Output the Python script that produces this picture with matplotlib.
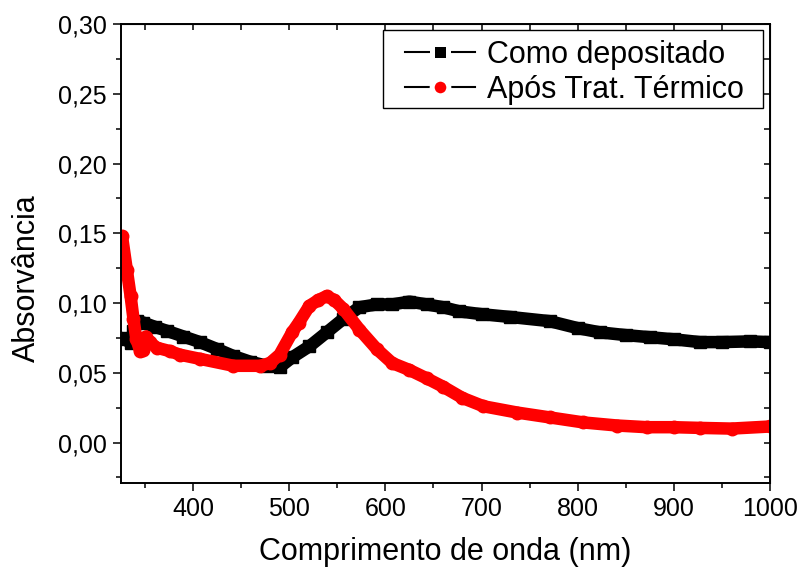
import numpy as np
import matplotlib
matplotlib.use("Agg")
import matplotlib.pyplot as plt
from matplotlib.lines import Line2D
from matplotlib.patches import Rectangle
from matplotlib.ticker import MultipleLocator, FuncFormatter

plt.rcParams['font.family'] = ['Liberation Sans', 'DejaVu Sans']

# Como depositado (black squares)
nm_dep = [325, 330, 335, 338, 342, 348, 360, 373, 390, 407, 425, 442, 459, 477,
          490, 503, 521, 539, 556, 573, 591, 607, 625, 643, 660, 677, 700, 730,
          771, 800, 823, 850, 875, 900, 927, 950, 979, 1000]
abs_dep = [0.075, 0.074, 0.071, 0.080, 0.087, 0.086, 0.083, 0.080, 0.076, 0.072,
           0.067, 0.062, 0.058, 0.055, 0.054, 0.061, 0.069, 0.079, 0.0885, 0.097,
           0.099, 0.099, 0.101, 0.099, 0.097, 0.094, 0.092, 0.090, 0.087, 0.082,
           0.079, 0.077, 0.0755, 0.074, 0.072, 0.072, 0.0725, 0.072]

# Após tratamento térmico (red circles)
nm_tt = [326, 331, 335, 338, 341, 345, 348, 351, 355, 362, 376, 386, 407, 442,
         470, 480, 490, 503, 510, 521, 530, 539, 547, 556, 573, 591, 607, 625,
         643, 660, 680, 702, 737, 771, 806, 841, 872, 900, 927, 960, 1000]
abs_tt = [0.148, 0.124, 0.105, 0.0885, 0.074, 0.0655, 0.066, 0.076, 0.072, 0.068,
          0.0655, 0.063, 0.060, 0.055, 0.055, 0.057, 0.063, 0.079, 0.086, 0.098,
          0.102, 0.105, 0.102, 0.096, 0.081, 0.067, 0.057, 0.052, 0.046, 0.040,
          0.032, 0.026, 0.0215, 0.018, 0.0144, 0.0122, 0.011, 0.011, 0.0105,
          0.010, 0.0115]

labels = ["Como depositado", "Após Trat. Térmico"]

fig = plt.figure(figsize=(8.01, 5.67), dpi=100)
ax = fig.add_axes([121/801, 1-483/567, 649/801, 459/567])

ax.plot(nm_dep, abs_dep, color='black', lw=9, marker='s', ms=8,
        solid_joinstyle='round', solid_capstyle='round')
ax.plot(nm_tt, abs_tt, color='red', lw=9, marker='o', ms=9,
        solid_joinstyle='round', solid_capstyle='round')

ax.set_xlim(325, 1000)
ax.set_ylim(-0.029, 0.30)

ax.xaxis.set_major_locator(MultipleLocator(100))
ax.xaxis.set_minor_locator(MultipleLocator(50))
ax.yaxis.set_major_locator(MultipleLocator(0.05))
ax.yaxis.set_minor_locator(MultipleLocator(0.025))
ax.yaxis.set_major_formatter(FuncFormatter(lambda v, p: f"{v:.2f}".replace('.', ',')))

for s in ax.spines.values():
    s.set_linewidth(1.4)

ax.tick_params(which='both', direction='out', width=1.1, labelsize=18,
               top=False, right=False)
ax.tick_params(which='major', length=6)
ax.tick_params(which='minor', length=3.5)
ax.tick_params(axis='x', pad=4)
ax.tick_params(axis='y', pad=4)

# inward ticks on top and right, like Origin
top = ax.secondary_xaxis('top')
top.xaxis.set_major_locator(MultipleLocator(100))
top.xaxis.set_minor_locator(MultipleLocator(50))
top.tick_params(which='both', direction='in', length=4, width=1.1, labeltop=False)
right = ax.secondary_yaxis('right')
right.yaxis.set_major_locator(MultipleLocator(0.05))
right.yaxis.set_minor_locator(MultipleLocator(0.025))
right.tick_params(which='both', direction='in', length=4, width=1.1, labelright=False)

ax.set_xlabel("Comprimento de onda (nm)", fontsize=22, labelpad=11.5)
ax.set_ylabel("Absorvância", fontsize=22)
ax.yaxis.set_label_coords(-0.1225, 0.4466)

# legend frame drawn separately (Origin pads more left/right than top/bottom)
ax.add_patch(Rectangle((0.4037, 0.817), 0.9892 - 0.4037, 0.98693 - 0.817,
                       transform=ax.transAxes, facecolor='white',
                       edgecolor='black', lw=1.0, zorder=4, clip_on=False))

# legend handles: black line - gap - marker - gap - black line
handles = [Line2D([], [], color='black', lw=1.5, marker='s', ms=12,
                  markerfacecolor='black', markeredgecolor='white', mew=3.6),
           Line2D([], [], color='black', lw=1.5, marker='o', ms=12,
                  markerfacecolor='red', markeredgecolor='white', mew=3.6)]
leg = ax.legend(handles, labels, loc='upper left',
                bbox_to_anchor=(0.4376, 0.9651),
                borderaxespad=0, fontsize=22, handlelength=2.3,
                handletextpad=0.39, labelspacing=0.15, borderpad=0,
                frameon=False)
leg.set_zorder(5)

fig.savefig("out.png", dpi=100)
